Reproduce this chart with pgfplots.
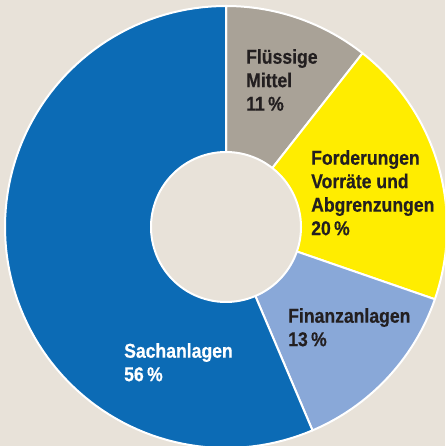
\documentclass[border=0pt]{standalone}
\usepackage{pgfplots}
\pgfplotsset{compat=1.18}
\usepackage{fontspec}
\setmainfont{Liberation Sans}[FakeStretch=0.88, BoldFeatures={FakeBold=0.5}]
\definecolor{bg}{HTML}{E8E2D9}
\definecolor{cgray}{HTML}{A9A297}
\definecolor{cyellow}{HTML}{FFED00}
\definecolor{clight}{HTML}{89A8D8}
\definecolor{cblue}{HTML}{0C6BB5}
\definecolor{txt}{HTML}{231F20}
\tikzset{lab/.style={inner sep=0pt, anchor=north west, align=left,
    font=\bfseries\fontsize{20}{23.5}\selectfont}}
% #1 cumulative start (percent), #2 value (percent), #3 colour
\newcommand{\sector}[3]{%
  \addplot[fill=#3, draw=white, line width=2pt, line join=round,
    samples at={-1,0,1,...,100}, variable=\t]
    ({(\t<0 ? 0 : 221)*cos(90-3.6*(#1+#2*\t/100))},
     {(\t<0 ? 0 : 221)*sin(90-3.6*(#1+#2*\t/100))}) -- cycle;
}
\begin{document}
\begin{tikzpicture}
\begin{axis}[
  x=1pt, y=1pt,
  xmin=-226, xmax=219, ymin=-219, ymax=227,
  axis line style={draw=none}, ticks=none,
  axis background/.style={fill=bg},
  clip=true,
]
% shares: 10.6, 19.7, 13.3, 56.4 (labelled 11, 20, 13, 56 %)
\sector{0}{10.6}{cgray}
\sector{10.6}{19.7}{cyellow}
\sector{30.3}{13.3}{clight}
\sector{43.6}{56.4}{cblue}
\addplot[fill=bg, draw=white, line width=2pt, domain=0:360, samples=120]
  ({75*cos(x)},{75*sin(x)}) -- cycle;
\node[lab, text=txt] at (axis cs:20,178) {Flüssige\\Mittel\\11\,\%};
\node[lab, text=txt] at (axis cs:85,77) {Forderungen\\Vorräte und\\Abgrenzungen\\20\,\%};
\node[lab, text=txt] at (axis cs:62,-81) {Finanzanlagen\\13\,\%};
\node[lab, text=white] at (axis cs:-102,-116) {Sachanlagen\\56\,\%};
\end{axis}
\end{tikzpicture}
\end{document}
